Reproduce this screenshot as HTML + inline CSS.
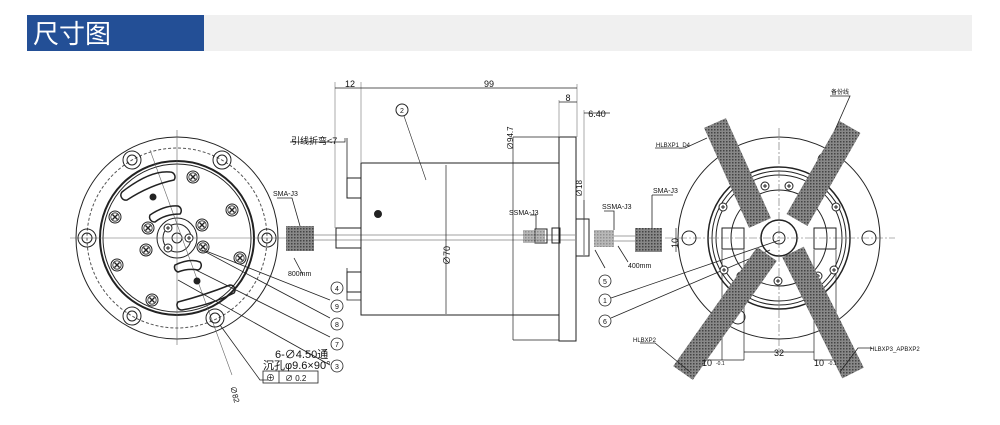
<!DOCTYPE html>
<html><head><meta charset="utf-8"><style>
html,body{margin:0;padding:0;background:#fff;}
body{width:1000px;height:425px;overflow:hidden;position:relative;font-family:"Liberation Sans","Noto Sans CJK SC",sans-serif;}
.hdr{position:absolute;left:27px;top:15px;width:177px;height:36px;background:#234f96;color:#fff;font-size:26px;line-height:36px;padding-left:6px;box-sizing:border-box;font-family:"Noto Sans CJK SC",sans-serif;}
.bar{position:absolute;left:204px;top:15px;width:768px;height:36px;background:#f0f0f0;}
svg{position:absolute;left:0;top:0;}
text{font-family:"Liberation Sans","Noto Sans CJK SC",sans-serif;fill:#111;}
</style></head><body>
<div class="hdr">尺寸图</div><div class="bar"></div>
<svg width="1000" height="425" viewBox="0 0 1000 425">
<defs>
<pattern id="h" width="3" height="3" patternUnits="userSpaceOnUse"><rect width="3" height="3" fill="#888"/><rect width="1.5" height="1.5" fill="#444"/></pattern>
<g id="scr"><circle r="6" fill="#fff" stroke="#222" stroke-width="1"/><circle r="4.2" fill="none" stroke="#222" stroke-width="0.8"/><path d="M-2.5,-2.5L2.5,2.5M2.5,-2.5L-2.5,2.5" stroke="#222" stroke-width="1.4"/></g>
<g id="ss"><circle r="4" fill="#fff" stroke="#222" stroke-width="1"/><path d="M-2,0H2M0,-2V2" stroke="#222" stroke-width="1"/></g>
</defs>
<g fill="none" stroke="#222" stroke-width="1">
<circle cx="177" cy="238" r="101"/>
<circle cx="177" cy="238" r="90" stroke-dasharray="3,2" stroke="#555"/>
<circle cx="177" cy="238" r="77" stroke-width="2"/>
<circle cx="177" cy="238" r="74"/>
<circle cx="177" cy="238" r="20"/>
<circle cx="177" cy="238" r="14"/>
<circle cx="177" cy="238" r="5"/>
<path d="M70,238H292M177,130V345" stroke="#666" stroke-width="0.6"/>
<path d="M150,150L232,375" stroke="#666" stroke-width="0.6"/>
<circle cx="87" cy="238" r="9"/><circle cx="87" cy="238" r="5"/>
<circle cx="267" cy="238" r="9"/><circle cx="267" cy="238" r="5"/>
<circle cx="132" cy="160" r="9"/><circle cx="132" cy="160" r="5"/>
<circle cx="222" cy="160" r="9"/><circle cx="222" cy="160" r="5"/>
<circle cx="132" cy="316" r="9"/><circle cx="132" cy="316" r="5"/>
<circle cx="215" cy="318" r="9"/><circle cx="215" cy="318" r="5"/>
<path d="M122,192Q150,170 170,172A5,5 0 0 1 174,180Q150,185 127,200A5,5 0 0 1 122,192Z" stroke-width="1.5"/>
<path d="M150,215Q165,205 178,206A5,5 0 0 1 180,214Q165,214 155,222A5,5 0 0 1 150,215Z" stroke-width="1.5"/>
<path d="M175,265Q190,258 200,262A5,5 0 0 1 198,270Q188,268 178,272A5,5 0 0 1 175,265Z" stroke-width="1.5"/>
<path d="M178,302Q205,295 230,285A5,5 0 0 1 234,293Q210,305 182,310A5,5 0 0 1 178,302Z" stroke-width="1.5"/>
<circle cx="153" cy="197" r="3" fill="#222"/><circle cx="197" cy="281" r="3" fill="#222"/>
</g>
<use href="#scr" x="193" y="177"/><use href="#scr" x="232" y="210"/><use href="#scr" x="115" y="217"/>
<use href="#scr" x="117" y="265"/><use href="#scr" x="240" y="258"/><use href="#scr" x="152" y="300"/>
<use href="#scr" x="148" y="228"/><use href="#scr" x="202" y="225"/><use href="#scr" x="146" y="250"/><use href="#scr" x="203" y="247"/>
<use href="#ss" x="168" y="228"/><use href="#ss" x="189" y="238"/><use href="#ss" x="168" y="248"/>
<g fill="none" stroke="#222" stroke-width="0.8">
<path d="M206,251L330,300M202,250L330,318M196,270L330,337M178,280L330,365M220,325L260,380H268"/>
</g>
<text x="230" y="387" font-size="8" transform="rotate(75 230 387)">∅82</text>
<text x="275" y="358" font-size="11">6-∅4.50通</text>
<text x="263" y="369" font-size="11">沉孔φ9.6×90°</text>
<rect x="263" y="371" width="55" height="12" fill="none" stroke="#222" stroke-width="0.8"/>
<line x1="279" y1="371" x2="279" y2="383" stroke="#222" stroke-width="0.8"/>
<text x="266" y="381" font-size="9">⊕</text><text x="285" y="381" font-size="8">∅ 0.2</text>
<g font-size="7" text-anchor="middle"><g fill="none" stroke="#222" stroke-width="0.8">
<circle cx="337" cy="288" r="6"/><circle cx="337" cy="306" r="6"/><circle cx="337" cy="324" r="6"/><circle cx="337" cy="344" r="6"/><circle cx="337" cy="366" r="6"/></g>
<text x="337" y="291">4</text><text x="337" y="309">9</text><text x="337" y="327">8</text><text x="337" y="347">7</text><text x="337" y="369">3</text></g>
<rect x="286" y="226" width="28" height="25" fill="url(#h)"/>
<path d="M314,235H575M314,240H575" stroke="#444" stroke-width="0.6"/>
<path d="M277,198H292L300,226M294,258L303,275" stroke="#222" stroke-width="0.8" fill="none"/>
<text x="273" y="196" font-size="7">SMA-J3</text><text x="288" y="276" font-size="7">800mm</text>
<g fill="none" stroke="#222" stroke-width="1">
<rect x="361" y="163" width="198" height="152"/>
<rect x="559" y="137" width="17" height="204"/>
<rect x="336" y="228" width="25" height="20"/>
<rect x="576" y="219" width="13" height="37"/>
<path d="M335,82V228M361,82V163M577,84V137M559,100V137M584,110V218" stroke="#888" stroke-width="0.7"/>
<path d="M335,88H577M559,102H577M584,113H610" stroke-width="0.7"/>
<path d="M347,138V178H361M347,268V300H361" stroke-width="0.8"/>
<rect x="347" y="178" width="14" height="20"/><rect x="347" y="272" width="14" height="20"/>
<path d="M446,165V314M513,137V340M513,137H559M513,340H559M584,200V255" stroke-width="0.7"/>
<rect x="552" y="228" width="8" height="15"/>
<rect x="535" y="229" width="12" height="14"/>
<circle cx="402" cy="110" r="6"/><path d="M404,116L426,180" stroke-width="0.6"/>
<circle cx="378" cy="214" r="3.5" fill="#222"/>
<path d="M290,142H345V138" stroke-width="0.7"/>
</g>
<rect x="523" y="230" width="22" height="13" fill="url(#h)" opacity="0.6"/>
<rect x="594" y="230" width="20" height="17" fill="url(#h)" opacity="0.6"/>
<path d="M614,236H635M614,241H635" stroke="#444" stroke-width="0.6"/>
<text x="350" y="87" font-size="9" text-anchor="middle">12</text>
<text x="489" y="87" font-size="9" text-anchor="middle">99</text>
<text x="568" y="101" font-size="9" text-anchor="middle">8</text>
<text x="597" y="117" font-size="9" text-anchor="middle">6.40</text>
<text x="402" y="113" font-size="7" text-anchor="middle">2</text>
<text x="291" y="144" font-size="9">引线折弯&lt;7</text>
<text x="513" y="150" font-size="8" transform="rotate(-90 513 150)">∅94.7</text>
<text x="450" y="265" font-size="9" transform="rotate(-90 450 265)">∅70</text>
<text x="582" y="197" font-size="8" transform="rotate(-90 582 197)">∅18</text>
<text x="509" y="215" font-size="7">SSMA-J3</text>
<text x="602" y="209" font-size="7">SSMA-J3</text>
<g fill="none" stroke="#222" stroke-width="0.8">
<path d="M530,215H536V229M604,211H614V230M595,250L605,268M618,246L628,262"/>
<circle cx="605" cy="281" r="6"/><circle cx="605" cy="300" r="6"/><circle cx="605" cy="321" r="6"/>
<path d="M611,298L780,240M611,318L770,250"/>
</g>
<g font-size="7" text-anchor="middle"><text x="605" y="284">5</text><text x="605" y="303">1</text><text x="605" y="324">6</text></g>
<text x="628" y="268" font-size="7">400mm</text>
<rect x="635" y="228" width="27" height="24" fill="url(#h)"/>
<path d="M652,195H673M652,195V228" stroke="#222" stroke-width="0.8" fill="none"/>
<text x="653" y="193" font-size="7">SMA-J3</text>
<g fill="none" stroke="#222" stroke-width="1">
<circle cx="779" cy="238" r="101"/>
<circle cx="779" cy="238" r="71" stroke-width="1.5"/>
<circle cx="779" cy="238" r="67"/><circle cx="779" cy="238" r="63"/>
<circle cx="779" cy="238" r="48"/>
<circle cx="779" cy="238" r="18" stroke-width="1.5"/><circle cx="779" cy="238" r="6"/>
<path d="M665,238H895M779,128V350" stroke="#666" stroke-width="0.6" stroke-dasharray="8,2,2,2"/>
<circle cx="689" cy="238" r="7"/><circle cx="869" cy="238" r="7"/>
<circle cx="733" cy="160" r="7"/><circle cx="825" cy="160" r="7"/>
<circle cx="738" cy="317" r="7"/><circle cx="825" cy="315" r="7"/>
<rect x="722" y="228" width="22" height="21"/><rect x="814" y="228" width="22" height="21"/>
<path d="M744,250V360M722,250V360M814,250V360M836,250V360" stroke-width="0.7"/>
<path d="M744,352H814M700,360H744M814,360H860" stroke-width="0.7"/>
<path d="M676,228V252" stroke-width="0.7"/>
</g>
<use href="#ss" x="723" y="207"/><use href="#ss" x="836" y="207"/><use href="#ss" x="741" y="276"/><use href="#ss" x="818" y="276"/>
<use href="#ss" x="765" y="186"/><use href="#ss" x="789" y="186"/><use href="#ss" x="778" y="281"/>
<use href="#ss" x="724" y="270"/><use href="#ss" x="834" y="270"/><use href="#ss" x="738" y="190"/><use href="#ss" x="820" y="190"/>
<g stroke="url(#h)" stroke-width="24" fill="none">
<line x1="715" y1="123" x2="760" y2="223"/>
<line x1="850" y1="127" x2="797" y2="220"/>
<line x1="767" y1="254" x2="683" y2="373"/>
<line x1="793" y1="252" x2="853" y2="373"/>
</g>
<g fill="none" stroke="#222" stroke-width="0.8">
<path d="M655,148H685L707,138M830,96H850L835,130M640,343H655L690,372M872,348H858L840,372"/>
</g>
<text x="656" y="147" font-size="6">HLBXP1_D4</text>
<text x="831" y="94" font-size="6">备份线</text>
<text x="633" y="342" font-size="6">HLBXP2</text>
<text x="870" y="351" font-size="6">HLBXP3_APBXP2</text>
<text x="779" y="356" font-size="9" text-anchor="middle">32</text>
<text x="702" y="366" font-size="9">10</text><text x="716" y="365" font-size="5">-0.1</text>
<text x="814" y="366" font-size="9">10</text><text x="828" y="365" font-size="5">-0.1</text>
<text x="678" y="248" font-size="9" transform="rotate(-90 678 248)">10</text>
</svg>
</body></html>
